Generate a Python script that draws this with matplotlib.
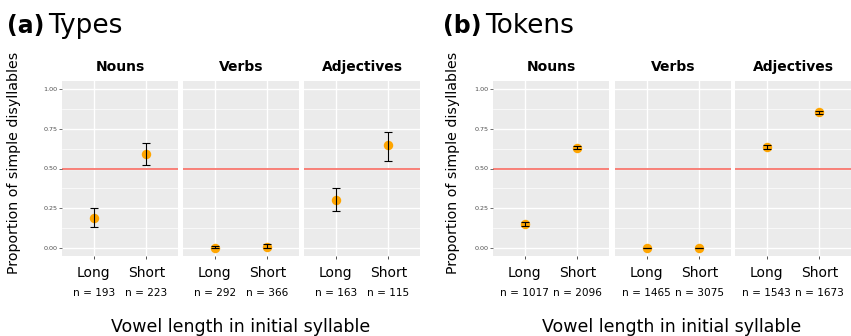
import numpy as np
import matplotlib.pyplot as plt

# proportion of simple disyllables by word class and vowel length
classes = ["Nouns", "Verbs", "Adjectives"]
lengths = ["Long", "Short"]

types_prop = [[0.188, 0.593], [0.003, 0.008], [0.300, 0.645]]
types_lo = [[0.135, 0.523], [0.000, 0.000], [0.232, 0.549]]
types_hi = [[0.251, 0.658], [0.012, 0.023], [0.378, 0.730]]
types_n = [[193, 223], [292, 366], [163, 115]]

tokens_prop = [[0.152, 0.631], [0.001, 0.001], [0.635, 0.853]]
tokens_lo = [[0.140, 0.620], [0.000, 0.000], [0.623, 0.843]]
tokens_hi = [[0.164, 0.642], [0.002, 0.002], [0.647, 0.863]]
tokens_n = [[1017, 2096], [1465, 3075], [1543, 1673]]

W, H = 851, 336
BG = "#EBEBEB"
TXT = "#4D4D4D"

fig = plt.figure(figsize=(W / 100, H / 100), dpi=100)
renderer = fig.canvas.get_renderer()


def px_axes(x0, y0, w, h):
    return fig.add_axes([x0 / W, 1 - (y0 + h) / H, w / W, h / H])


def draw_group(xs, tag, name, title_x, ylab_x, xlab_x, prop, lo, hi, ns):
    t = fig.text(title_x / W, 1 - 33 / H, tag, fontsize=17, fontweight="bold",
                 va="baseline", ha="left")
    right = t.get_window_extent(renderer).x1
    fig.text((right + 4) / W, 1 - 33 / H, name, fontsize=19, va="baseline", ha="left")
    fig.text(ylab_x / W, 1 - 163 / H, "Proportion of simple disyllables",
             rotation=90, fontsize=10.2, va="center", ha="center")
    fig.text(xlab_x / W, 1 - 327 / H, "Vowel length in initial syllable",
             fontsize=12.5, va="center", ha="center")

    for i, (x0, cls) in enumerate(zip(xs, classes)):
        ax = px_axes(x0, 81, 116, 175)
        ax.set_facecolor(BG)
        for s in ax.spines.values():
            s.set_visible(False)
        ax.set_xlim(0.4, 2.6)
        ax.set_ylim(-0.05, 1.05)
        for y in np.arange(0.125, 1.0, 0.25):
            ax.axhline(y, color="white", lw=0.5, zorder=0)
        for y in np.arange(0, 1.01, 0.25):
            ax.axhline(y, color="white", lw=1.0, zorder=0)
        for x in (1, 2):
            ax.axvline(x, color="white", lw=1.0, zorder=0)
        ax.axhline(0.5, color="#F8766D", lw=1.3, zorder=1)

        xpos = np.array([1, 2])
        p = np.array(prop[i])
        err = np.array([p - np.array(lo[i]), np.array(hi[i]) - p])
        ax.plot(xpos, p, "o", color="orange", ms=6.8, mec="none", zorder=2)
        ax.errorbar(xpos, p, yerr=err, fmt="none", ecolor="black",
                    elinewidth=0.8, capsize=2.8, capthick=0.8, zorder=3)

        ax.set_xticks(xpos)
        ax.set_xticklabels(lengths, fontsize=10)
        ax.tick_params(axis="x", length=2, width=0.6, color="#333333", pad=5)
        for j, n in enumerate(ns[i]):
            ax.annotate(f"n = {n}", xy=(xpos[j], 0), xycoords=("data", "axes fraction"),
                        xytext=(0, -27), textcoords="offset points",
                        ha="center", va="center", fontsize=7.6)

        ax.set_yticks([0, 0.25, 0.5, 0.75, 1.0])
        if i == 0:
            ax.set_yticklabels(["0.00", "0.25", "0.50", "0.75", "1.00"],
                               fontsize=4.6, color=TXT)
            ax.tick_params(axis="y", length=2, width=0.5, color="#333333", pad=1.5)
        else:
            ax.tick_params(axis="y", length=0, labelleft=False)

        ax.set_title(cls, fontsize=10, fontweight="bold", pad=7)


draw_group([62, 183, 304], "(a)", "Types", 7, 14, 241,
           types_prop, types_lo, types_hi, types_n)
draw_group([493, 615, 735], "(b)", "Tokens", 443, 453, 672,
           tokens_prop, tokens_lo, tokens_hi, tokens_n)

fig.savefig("out.png", dpi=100)
